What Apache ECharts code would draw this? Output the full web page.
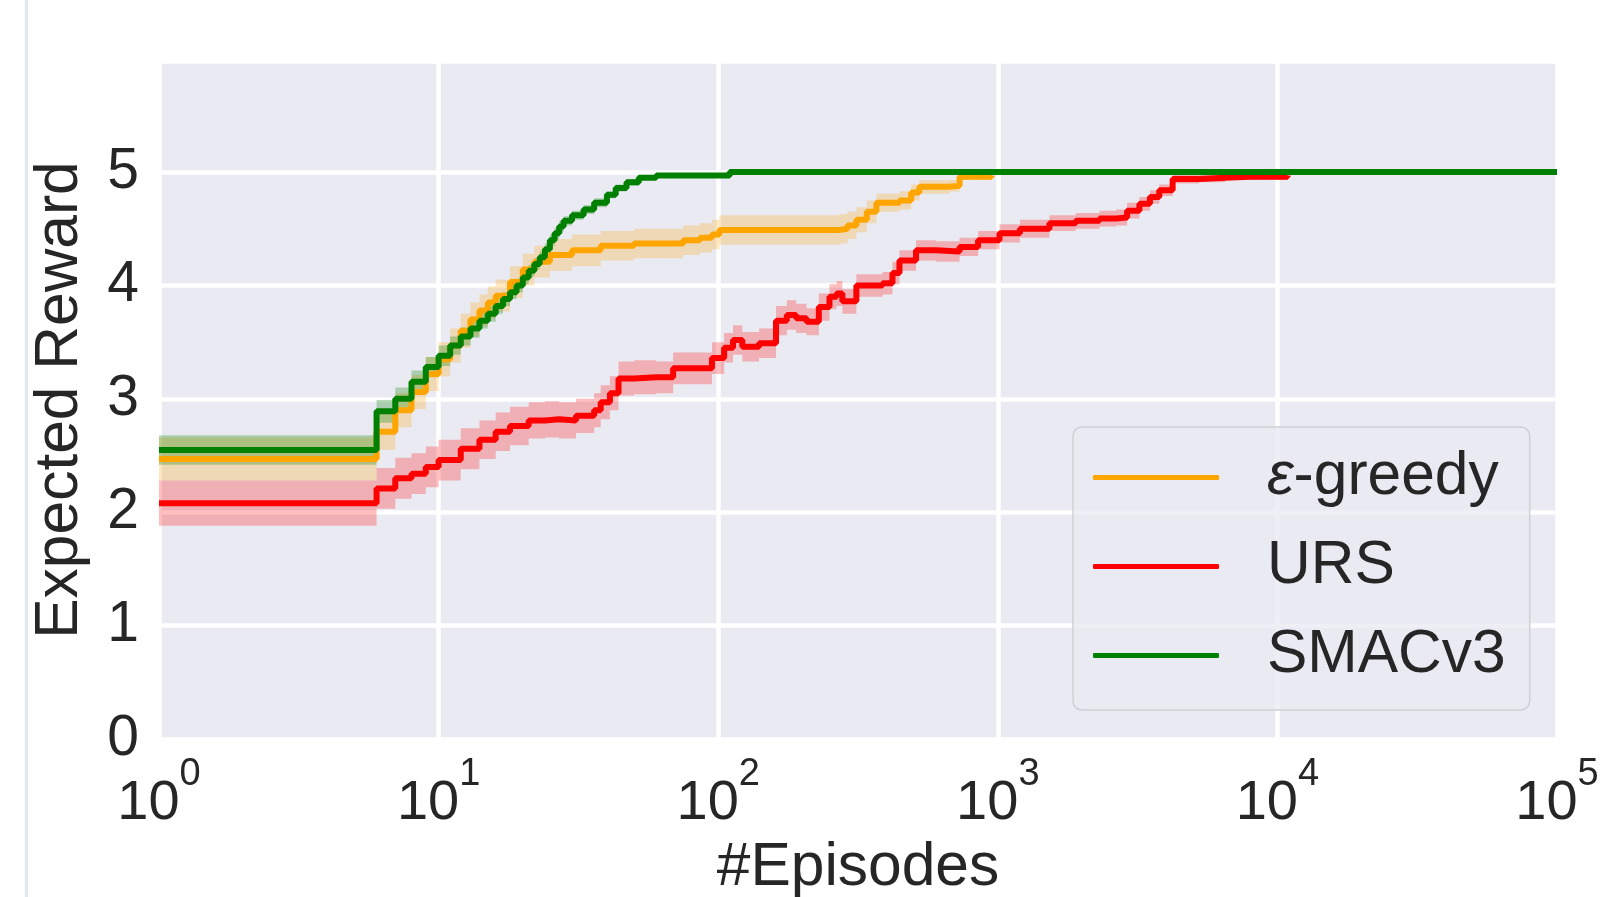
<!DOCTYPE html>
<html>
<head>
<meta charset="utf-8">
<title>Expected Reward vs Episodes</title>
<script src="https://cdn.jsdelivr.net/npm/echarts@6.0.0/dist/echarts.min.js"></script>
<style>
  html, body { margin: 0; padding: 0; background: #fff; }
  #chart { width: 1602px; height: 897px; }
</style>
</head>
<body>
<div id="chart"></div>
<script>
// episodes (x) and mean reward / half band width
var greedyX = [1, 6, 7, 8, 9, 10, 11, 12, 13, 14, 15, 16, 18, 20, 22, 25, 30, 38, 50, 65, 75, 86, 95, 101, 272, 290, 312, 340, 368, 445, 490, 524, 671, 730, 950];
var greedyMean = [2.47, 2.71, 2.90, 3.06, 3.22, 3.35, 3.47, 3.60, 3.70, 3.78, 3.85, 3.91, 4.03, 4.14, 4.21, 4.27, 4.31, 4.35, 4.37, 4.37, 4.40, 4.42, 4.45, 4.49, 4.50, 4.53, 4.58, 4.65, 4.73, 4.75, 4.82, 4.87, 4.88, 4.96, 4.97];
var greedyBand = [0.19, 0.16, 0.15, 0.15, 0.15, 0.15, 0.15, 0.15, 0.15, 0.14, 0.14, 0.14, 0.14, 0.14, 0.14, 0.14, 0.14, 0.13, 0.13, 0.13, 0.13, 0.13, 0.13, 0.13, 0.13, 0.12, 0.11, 0.10, 0.08, 0.08, 0.07, 0.06, 0.05, 0.03, 0.03];

var ursX = [1, 6, 7, 8, 9, 10, 12, 14, 16, 18, 21, 24, 27, 31, 36, 38, 41, 44, 50, 60, 69, 85, 95, 105, 113, 122, 140, 161, 176, 190, 207, 229, 250, 265, 278, 312, 387, 420, 445, 510, 600, 730, 850, 1014, 1200, 1530, 1900, 2310, 2650, 2900, 3210, 3500, 3780, 4220, 5250, 6500, 7950, 10870];
var ursMean = [2.08, 2.21, 2.30, 2.34, 2.40, 2.46, 2.56, 2.64, 2.71, 2.76, 2.81, 2.82, 2.81, 2.85, 2.90, 2.97, 3.05, 3.18, 3.19, 3.19, 3.27, 3.27, 3.36, 3.45, 3.52, 3.46, 3.49, 3.69, 3.74, 3.71, 3.68, 3.81, 3.90, 3.93, 3.86, 4.00, 4.02, 4.11, 4.22, 4.31, 4.30, 4.34, 4.40, 4.46, 4.50, 4.55, 4.57, 4.59, 4.60, 4.66, 4.72, 4.78, 4.84, 4.94, 4.95, 4.96, 4.96, 4.97];
var ursBand = [0.20, 0.18, 0.18, 0.18, 0.18, 0.18, 0.18, 0.17, 0.17, 0.17, 0.16, 0.16, 0.16, 0.15, 0.15, 0.15, 0.15, 0.15, 0.15, 0.14, 0.14, 0.14, 0.14, 0.13, 0.13, 0.13, 0.13, 0.13, 0.13, 0.13, 0.12, 0.12, 0.11, 0.11, 0.11, 0.10, 0.10, 0.10, 0.09, 0.09, 0.09, 0.08, 0.08, 0.08, 0.08, 0.07, 0.07, 0.07, 0.07, 0.07, 0.06, 0.06, 0.05, 0.04, 0.04, 0.03, 0.03, 0.03];

var smacX = [1, 6, 7, 8, 9, 10, 11, 12, 13, 14, 15, 16, 17, 18, 19, 20, 21, 22, 23, 24, 25, 26, 27, 28, 30, 33, 36, 40, 43, 47, 52, 60, 110, 100000];
var smacMean = [2.55, 2.89, 3.00, 3.15, 3.28, 3.38, 3.47, 3.55, 3.62, 3.69, 3.75, 3.82, 3.88, 3.94, 4.00, 4.07, 4.13, 4.19, 4.25, 4.32, 4.40, 4.46, 4.52, 4.57, 4.62, 4.67, 4.73, 4.80, 4.86, 4.91, 4.95, 4.97, 5.00, 5.00];
var smacBand = [0.13, 0.10, 0.10, 0.10, 0.09, 0.09, 0.08, 0.08, 0.08, 0.07, 0.07, 0.07, 0.06, 0.06, 0.06, 0.06, 0.05, 0.05, 0.05, 0.05, 0.05, 0.05, 0.05, 0.04, 0.04, 0.04, 0.04, 0.03, 0.03, 0.03, 0.02, 0.02, 0.0, 0.0];

var methodNames = ['ε-greedy', 'URS', 'SMACv3'];
var yTicks = [0, 1, 2, 3, 4, 5];

var textColor = '#262626';
var fontName = 'Liberation Sans, Arial, sans-serif';
var fs = 60.5;      // axis names + legend
var tickFs = 57;    // tick labels

// shaded band drawn as one stepped polygon through the axis scales
function bandSeries(xs, mean, band, fill) {
  var data = [];
  for (var i = 0; i < xs.length; i++) {
    data.push([xs[i], mean[i] - band[i], mean[i] + band[i]]);
  }
  return {
    type: 'custom', silent: true,
    encode: { x: 0, y: [1, 2] },
    data: data,
    renderItem: function (params, api) {
      if (params.dataIndex !== 0) return;
      var upper = [], lower = [];
      for (var k = 0; k < data.length; k++) {
        var xNext = k + 1 < data.length ? data[k + 1][0] : data[k][0];
        upper.push(api.coord([data[k][0], data[k][2]]), api.coord([xNext, data[k][2]]));
        lower.push(api.coord([data[k][0], data[k][1]]), api.coord([xNext, data[k][1]]));
      }
      return {
        type: 'polygon',
        shape: { points: upper.concat(lower.reverse()) },
        style: { fill: fill }
      };
    }
  };
}

function lineSeries(name, xs, mean, color) {
  var line = [];
  for (var i = 0; i < xs.length; i++) line.push([xs[i], mean[i]]);
  return {
    name: name, type: 'line', step: 'end', data: line, symbol: 'none',
    itemStyle: { color: color },
    lineStyle: { color: color, width: 6 }
  };
}

var series = [
  bandSeries(greedyX, greedyMean, greedyBand, 'rgba(255,165,0,0.25)'),
  lineSeries(methodNames[0], greedyX, greedyMean, '#ffa500'),
  bandSeries(ursX, ursMean, ursBand, 'rgba(255,0,0,0.25)'),
  lineSeries(methodNames[1], ursX, ursMean, '#ff0000'),
  bandSeries(smacX, smacMean, smacBand, 'rgba(0,128,0,0.28)'),
  lineSeries(methodNames[2], smacX, smacMean, '#008000')
];

var chart = echarts.init(document.getElementById('chart'));
chart.setOption({
  animation: false,
  textStyle: { fontFamily: fontName },
  grid: {
    left: 159, right: 45, top: 61, bottom: 158,
    show: true, backgroundColor: '#eaeaf2', borderWidth: 0,
    outerBoundsMode: 'none'
  },
  graphic: [
    { type: 'rect', shape: { x: 25, y: 0, width: 3, height: 897 }, style: { fill: '#e0e7ef' } }
  ],
  xAxis: {
    type: 'log', logBase: 10, min: 1, max: 100000,
    name: '#Episodes', nameLocation: 'middle', nameGap: 99,
    nameTextStyle: { fontSize: fs, color: textColor, fontFamily: fontName },
    axisLine: { show: false }, axisTick: { show: false },
    splitLine: { show: true, lineStyle: { color: '#ffffff', width: 4.5 } },
    minorTick: { show: false },
    axisLabel: {
      margin: 27, showMinLabel: true, showMaxLabel: true,
      formatter: function (v) {
        return '{b|10}{s|' + Math.round(Math.log10(v)) + '}';
      },
      rich: {
        b: { fontSize: 56, lineHeight: 56, color: textColor, fontFamily: fontName, padding: [20, 0, 0, 0] },
        s: { fontSize: 38, lineHeight: 38, color: textColor, fontFamily: fontName, padding: [0, 0, 38, 0] }
      }
    }
  },
  yAxis: {
    type: 'value', min: 0, max: 5.98, interval: 1,
    name: 'Expected Reward', nameLocation: 'middle', nameGap: 68, nameRotate: 90,
    nameTextStyle: { fontSize: fs, color: textColor, fontFamily: fontName },
    axisLine: { show: false }, axisTick: { show: false },
    splitLine: { show: true, lineStyle: { color: '#ffffff', width: 4.5 } },
    axisLabel: {
      margin: 20, fontSize: tickFs, color: textColor, fontFamily: fontName,
      formatter: function (v) { return yTicks.indexOf(v) >= 0 ? String(v) : ''; }
    }
  },
  legend: {
    orient: 'vertical', left: 1073, top: 427,
    data: methodNames,
    icon: 'roundRect', itemWidth: 126, itemHeight: 5, itemGap: 28,
    padding: [20, 24, 24, 20],
    backgroundColor: 'rgba(234,234,242,0.8)',
    borderColor: '#cfcfd6', borderWidth: 1.5, borderRadius: 9,
    formatter: function (name) {
      if (name === 'ε-greedy') return '{e|ε}-greedy';
      return name;
    },
    textStyle: {
      fontSize: fs, lineHeight: 60, color: textColor, fontFamily: fontName,
      padding: [0, 0, 0, 43],
      rich: {
        e: { fontSize: fs, lineHeight: 60, color: textColor, fontFamily: fontName, fontStyle: 'italic' }
      }
    }
  },
  series: series
});
</script>
</body>
</html>
